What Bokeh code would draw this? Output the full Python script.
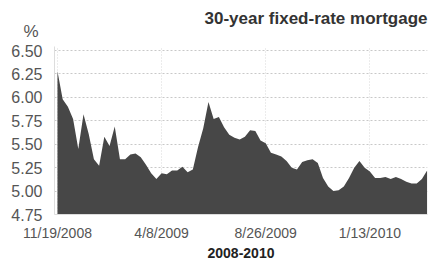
import pandas as pd
from bokeh.plotting import figure
from bokeh.models import FixedTicker, CustomJSTickFormatter, NumeralTickFormatter, Range1d, Title
from bokeh.embed import file_html
from bokeh.resources import INLINE

# Weekly 30-year fixed mortgage rate (%), starting 11/19/2008
start_date = "2008-11-19"
rates = [6.28, 5.98, 5.90, 5.77, 5.45, 5.82, 5.61, 5.34, 5.27, 5.58,
         5.48, 5.69, 5.34, 5.34, 5.39, 5.40, 5.36, 5.28, 5.19, 5.13,
         5.19, 5.18, 5.22, 5.22, 5.26, 5.20, 5.23, 5.47, 5.67, 5.95,
         5.77, 5.79, 5.68, 5.60, 5.57, 5.55, 5.58, 5.65, 5.64, 5.54,
         5.51, 5.41, 5.39, 5.37, 5.32, 5.25, 5.23, 5.31, 5.33, 5.34,
         5.30, 5.14, 5.05, 5.00, 5.01, 5.05, 5.14, 5.25, 5.32, 5.25,
         5.21, 5.14, 5.14, 5.15, 5.13, 5.15, 5.13, 5.10, 5.08, 5.08,
         5.13, 5.22]
dates = pd.date_range(start_date, periods=len(rates), freq="7D")

x_tick_dates = ["2008-11-19", "2009-04-08", "2009-08-26", "2010-01-13"]
y_ticks = [4.75, 5.00, 5.25, 5.50, 5.75, 6.00, 6.25, 6.50]
title_text = "30-year fixed-rate mortgage"
unit_text = "%"
x_label = "2008-2010"

FONT = "Liberation Sans"

x_start = pd.Timestamp(start_date) - pd.Timedelta(days=4)
x_end = dates[-1] + pd.Timedelta(hours=12)

p = figure(width=428, height=260, x_axis_type="datetime",
           output_backend="svg", toolbar_location=None,
           x_range=Range1d(x_start, x_end), y_range=Range1d(4.75, 6.543),
           min_border_left=54, min_border_right=1, min_border_top=46, min_border_bottom=46)
p.outline_line_color = None
p.background_fill_color = "white"

p.varea(x=dates, y1=4.75, y2=rates, fill_color="#474747")

tick_ms = [pd.Timestamp(d).value / 1e6 for d in x_tick_dates]
p.xaxis.ticker = FixedTicker(ticks=tick_ms)
p.xaxis.formatter = CustomJSTickFormatter(code="""
const d = new Date(tick);
return (d.getUTCMonth()+1) + '/' + d.getUTCDate() + '/' + d.getUTCFullYear();
""")
p.yaxis.ticker = FixedTicker(ticks=y_ticks)
p.yaxis.formatter = NumeralTickFormatter(format="0.00")

for ax in (p.xaxis[0], p.yaxis[0]):
    ax.axis_line_color = "#dddddd"
    ax.major_tick_line_color = "#dddddd"
    ax.minor_tick_line_color = None
    ax.major_tick_in = 0
    ax.major_tick_out = 0
    ax.major_label_text_font = FONT
    ax.major_label_text_color = "#555555"

p.yaxis.major_label_text_font_size = "16px"
p.yaxis.major_label_standoff = 12
p.xaxis.major_label_text_font_size = "14px"
p.xaxis.major_label_text_line_height = 1.0
p.xaxis.major_label_standoff = 10
p.xaxis.axis_label = x_label
p.xaxis.axis_label_text_font = FONT
p.xaxis.axis_label_text_font_size = "14px"
p.xaxis.axis_label_text_line_height = 1.0
p.xaxis.axis_label_text_font_style = "bold"
p.xaxis.axis_label_text_color = "#222222"
p.xaxis.axis_label_standoff = 4

p.ygrid.grid_line_color = "#c8c8c8"
p.ygrid.grid_line_dash = "2 2"
p.xgrid.grid_line_color = "#d8d8d8"
p.xgrid.grid_line_dash = "1 2"

p.title.text = title_text
p.title.align = "right"
p.title.offset = 0
p.title.text_font = FONT
p.title.text_font_size = "17px"
p.title.text_font_style = "bold"
p.title.text_color = "#333333"
p.title.standoff = -29

pct = Title(text=unit_text, align="left", offset=-31, text_font=FONT,
            text_font_size="17px", text_font_style="normal", text_color="#555555",
            standoff=12)
p.add_layout(pct, "above")

open("out.html", "w").write(file_html(p, INLINE))
